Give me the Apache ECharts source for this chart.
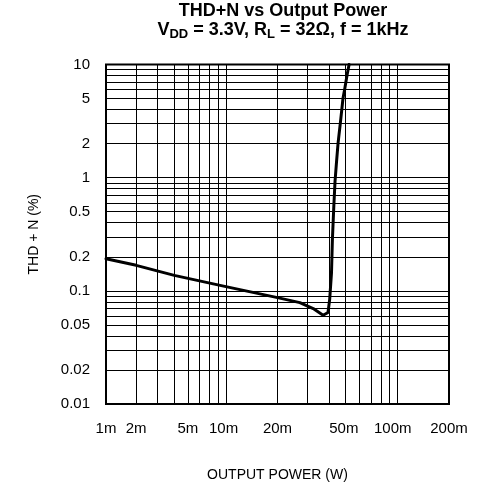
<!DOCTYPE html>
<html>
<head>
<meta charset="utf-8">
<script src="https://cdn.jsdelivr.net/npm/echarts@6/dist/echarts.min.js"></script>
<style>
html, body { margin: 0; padding: 0; background: #fff; }
#chart { width: 477px; height: 487px; }
</style>
</head>
<body>
<div id="chart"></div>
<script>
// output power (W) and THD+N (%)
const power = [0.002, 0.003, 0.005, 0.010, 0.020, 0.027, 0.0323, 0.0369, 0.0394, 0.0403, 0.0413, 0.0418, 0.0426, 0.0433, 0.0442, 0.0451, 0.0466, 0.0482, 0.0494, 0.0509, 0.0523];
const thdn = [0.192, 0.168, 0.137, 0.109, 0.0871, 0.0787, 0.0697, 0.0608, 0.0643, 0.0841, 0.145, 0.284, 0.559, 0.927, 1.39, 2.02, 3.13, 5.04, 6.17, 8.08, 10];

// grid lines
const xGrid = [0.003, 0.004, 0.005, 0.006, 0.007, 0.008, 0.009, 0.01, 0.02, 0.03, 0.04, 0.05, 0.06, 0.07, 0.08, 0.09, 0.1];
const yGrid = [0.02, 0.03, 0.04, 0.05, 0.06, 0.07, 0.08, 0.09, 0.1, 0.2, 0.3, 0.4, 0.5, 0.6, 0.7, 0.8, 0.9, 1, 2, 3, 4, 5, 6, 7, 8, 9];

// tick labels, where the picture puts them
const xLabelAt = [0.002, 0.003, 0.006, 0.0097, 0.02, 0.0487, 0.094, 0.2];
const xLabelText = ['1m', '2m', '5m', '10m', '20m', '50m', '100m', '200m'];
const yLabelAt = [0.01, 0.02, 0.05, 0.1, 0.2, 0.5, 1, 2, 5, 10];
const yLabelText = ['0.01', '0.02', '0.05', '0.1', '0.2', '0.5', '1', '2', '5', '10'];

const font = 'Liberation Sans, Arial, sans-serif';

function pick(at, text, v) {
    let best = 0;
    at.forEach((a, i) => {
        if (Math.abs(Math.log(a / v)) < Math.abs(Math.log(at[best] / v))) best = i;
    });
    return text[best];
}

const chart = echarts.init(document.getElementById('chart'), null, { renderer: 'canvas' });

chart.setOption({
    animation: false,
    backgroundColor: '#fff',
    title: [{
        text: 'THD+N vs Output Power',
        left: 278,
        top: -3,
        textAlign: 'center',
        textStyle: { fontSize: 18, fontWeight: 'bold', fontFamily: font, color: '#000' }
    }, {
        text: '{b|V}{s|DD}{b| = 3.3V, R}{s|L}{b| = 32Ω, f = 1kHz}',
        left: 278,
        top: 14,
        textAlign: 'center',
        textStyle: {
            rich: {
                b: { fontSize: 18, fontWeight: 'bold', fontFamily: font, color: '#000' },
                s: { fontSize: 13, fontWeight: 'bold', fontFamily: font, color: '#000', padding: [9, 0, 0, 0] }
            }
        }
    }],
    grid: {
        left: 106, right: 28, top: 64.5, bottom: 82,
        show: true, borderColor: '#000', borderWidth: 2
    },
    xAxis: {
        type: 'log',
        min: 0.002,
        max: 0.2,
        name: 'OUTPUT POWER (W)',
        nameLocation: 'middle',
        nameGap: 64,
        nameTextStyle: { fontSize: 14, fontFamily: font, color: '#000' },
        axisLine: { show: false },
        axisTick: { show: false, customValues: xGrid },
        axisLabel: {
            customValues: xLabelAt,
            margin: 17,
            fontSize: 15,
            fontFamily: font,
            color: '#000',
            formatter: v => pick(xLabelAt, xLabelText, v)
        },
        splitLine: { show: true, lineStyle: { color: '#000', width: 1 } }
    },
    yAxis: {
        type: 'log',
        min: 0.01,
        max: 10,
        name: 'THD + N (%)',
        nameLocation: 'middle',
        nameGap: 65,
        nameTextStyle: { fontSize: 14, fontFamily: font, color: '#000' },
        axisLine: { show: false },
        axisTick: { show: false, customValues: yGrid },
        axisLabel: {
            customValues: yLabelAt,
            margin: 16,
            fontSize: 15,
            fontFamily: font,
            color: '#000',
            formatter: v => pick(yLabelAt, yLabelText, v)
        },
        splitLine: { show: true, lineStyle: { color: '#000', width: 1 } }
    },
    series: [{
        type: 'line',
        data: power.map((p, i) => [p, thdn[i]]),
        symbol: 'none',
        silent: true,
        lineStyle: { color: '#000', width: 3, join: 'round', cap: 'round' }
    }]
});
</script>
</body>
</html>
